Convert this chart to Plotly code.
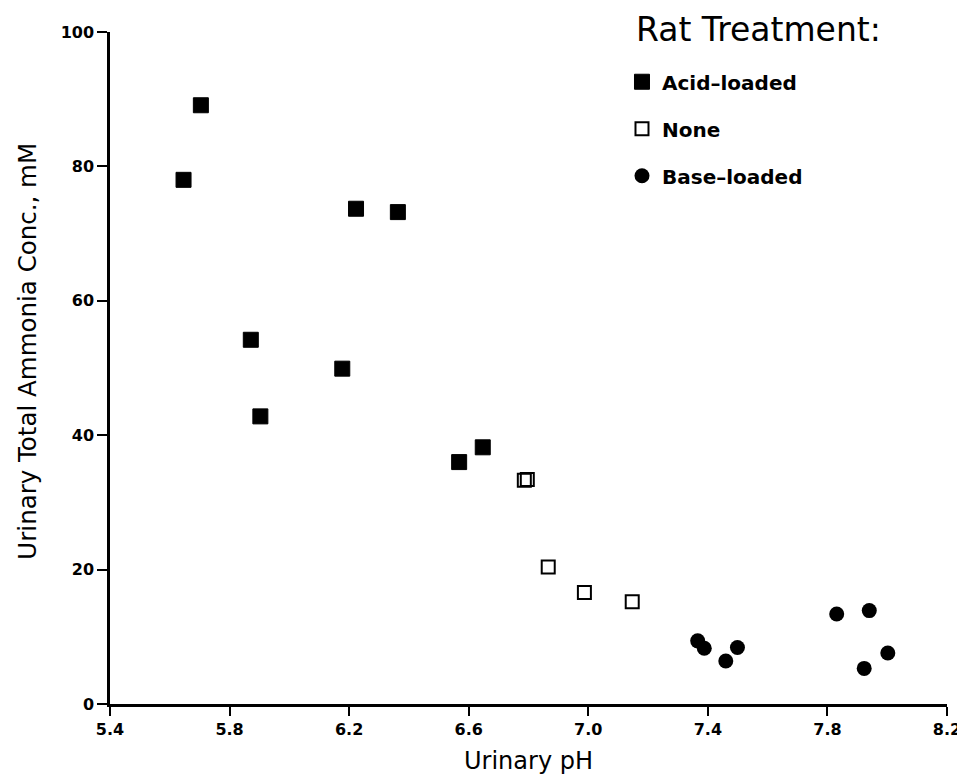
import plotly.graph_objects as go

acid_ph = [5.646, 5.704, 5.871, 5.903, 6.177, 6.223, 6.363, 6.568, 6.647]
acid_nh = [78.0, 89.1, 54.2, 42.8, 49.9, 73.7, 73.2, 36.0, 38.2]

none_ph = [6.786, 6.796, 6.866, 6.987, 7.147]
none_nh = [33.3, 33.4, 20.4, 16.6, 15.2]

base_ph = [7.366, 7.388, 7.460, 7.499, 7.831, 7.940, 7.923, 8.002]
base_nh = [9.4, 8.3, 6.4, 8.4, 13.4, 13.9, 5.3, 7.6]

x_ticks = [5.4, 5.8, 6.2, 6.6, 7.0, 7.4, 7.8, 8.2]
x_labels = ["5.4", "5.8", "6.2", "6.6", "7.0", "7.4", "7.8", "8.2"]
y_ticks = [0, 20, 40, 60, 80, 100]

FONT = "DejaVu Sans"

fig = go.Figure()
fig.add_trace(go.Scatter(x=acid_ph, y=acid_nh, mode="markers", name="Acid\u2013loaded",
                         legendgroup="a",
                         marker=dict(symbol="square", size=15, color="black",
                                     line=dict(color="black", width=1))))
fig.add_trace(go.Scatter(x=none_ph, y=none_nh, mode="markers", name="None",
                         legendgroup="b",
                         marker=dict(symbol="square-open", size=13, color="black",
                                     line=dict(color="black", width=2))))
fig.add_trace(go.Scatter(x=base_ph, y=base_nh, mode="markers", name="Base\u2013loaded",
                         legendgroup="c",
                         marker=dict(symbol="circle", size=15, color="black",
                                     line=dict(color="black", width=0))))

fig.add_annotation(
    text="Rat Treatment:", xref="paper", yref="paper",
    x=0.626, y=1.003, xanchor="left", yanchor="middle", showarrow=False,
    font=dict(family=FONT, size=33, color="black"),
)
fig.add_annotation(
    text="Urinary Total Ammonia Conc., mM", xref="paper", yref="paper",
    x=-0.0986, y=0.525, xanchor="center", yanchor="middle", showarrow=False,
    textangle=-90,
    font=dict(family=FONT, size=24.5, color="black"),
)

fig.update_layout(
    width=957, height=768,
    margin=dict(l=102, r=18, t=24, b=72, autoexpand=False),
    paper_bgcolor="white", plot_bgcolor="white",
    font=dict(family=FONT, color="black"),
    showlegend=True,
    legend=dict(
        x=0.6117, y=0.955, xanchor="left", yanchor="top",
        bgcolor="rgba(0,0,0,0)",
        font=dict(family=FONT, size=20, color="black", weight="bold"),
        tracegroupgap=18,
        itemwidth=30,
    ),
    xaxis=dict(
        range=[5.4, 8.2], tickmode="array", tickvals=x_ticks, ticktext=x_labels,
        showgrid=False, zeroline=False, showline=True, linecolor="black", linewidth=2.5,
        ticks="outside", ticklen=9, tickwidth=2, tickcolor="black", automargin=False,
        tickfont=dict(family=FONT, size=16, color="black", weight="bold"),
        title=dict(text="Urinary pH", font=dict(family=FONT, size=24, color="black"), standoff=15),
    ),
    yaxis=dict(
        range=[0, 100], tickmode="array", tickvals=y_ticks,
        showgrid=False, zeroline=False, showline=True, linecolor="black", linewidth=2.5,
        ticks="outside", ticklen=10, tickwidth=2, tickcolor="black", automargin=False,
        tickfont=dict(family=FONT, size=16, color="black", weight="bold"),
    ),
)

fig.write_html("out.html")
